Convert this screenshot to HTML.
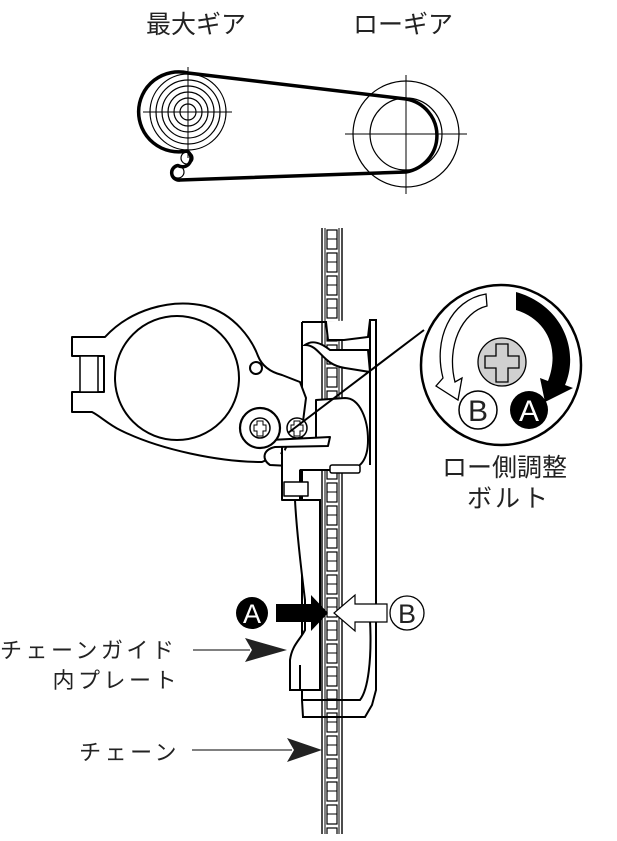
<!DOCTYPE html>
<html><head><meta charset="utf-8"><style>
html,body{margin:0;padding:0;background:#fff;}
svg{display:block;}
text{font-family:"Liberation Sans","Noto Sans CJK JP",sans-serif;fill:#222;}
</style></head><body>
<svg width="617" height="841" viewBox="0 0 617 841" xmlns="http://www.w3.org/2000/svg">
<defs>
<pattern id="chain" x="321" y="228" width="22" height="23" patternUnits="userSpaceOnUse">
<rect x="0" y="0" width="22" height="23" fill="#fff"/>
<line x1="1" y1="0" x2="1" y2="23" stroke="#000" stroke-width="1.4"/>
<line x1="21" y1="0" x2="21" y2="23" stroke="#000" stroke-width="1.4"/>
<line x1="4" y1="0" x2="4" y2="23" stroke="#000" stroke-width="1"/>
<line x1="18" y1="0" x2="18" y2="23" stroke="#000" stroke-width="1"/>
<rect x="6" y="2" width="10" height="19" fill="none" stroke="#000" stroke-width="1.2"/>
<line x1="6" y1="11" x2="16" y2="11" stroke="#000" stroke-width="1"/>
</pattern>
</defs>

<text x="146" y="33" font-size="25">最大ギア</text>
<text x="353" y="33" font-size="25">ローギア</text>

<g fill="none" stroke="#000">
<circle cx="188" cy="112" r="38" stroke-width="1.2"/>
<circle cx="188" cy="112" r="32" stroke-width="1.2"/>
<circle cx="188" cy="112" r="26" stroke-width="1.2"/>
<circle cx="188" cy="112" r="20" stroke-width="1.2"/>
<circle cx="188" cy="112" r="14" stroke-width="1.2"/>
<circle cx="188" cy="112" r="8" stroke-width="1.2"/>
<line x1="143" y1="112" x2="232" y2="112" stroke-width="1"/>
<line x1="188" y1="67" x2="188" y2="158" stroke-width="1"/>
<circle cx="406" cy="134" r="53" stroke-width="1.2"/>
<circle cx="406" cy="134" r="36" stroke-width="1.2"/>
<line x1="345" y1="134" x2="467" y2="134" stroke-width="1"/>
<line x1="406" y1="75" x2="406" y2="194" stroke-width="1"/>
<circle cx="187" cy="158" r="6" stroke-width="1.2"/>
<circle cx="178" cy="172" r="6" stroke-width="1.2"/>
<path d="M188,73 L406,99 A37,37 0 0 1 406,172 L180,180 A6.5,6.5 0 0 1 178,165.5 A7,7 0 0 0 187,151 A40,40 0 1 1 188,73 Z" stroke-width="3.5" stroke-linejoin="round"/>
</g>

<rect x="321" y="228" width="22" height="606" fill="url(#chain)"/>

<g fill="none" stroke="#000" stroke-width="2">
<path d="M302,322 L302,700 L303,717 L365,717 L372,705 L376,690 L376,320 L370,320 L370,465"/>
<path d="M302,322 L326,322 L328,340 L344,340 L368,337 L370,320" fill="#fff"/>
<path d="M305,345 C320,345 322,365 345,368 L370,372 L368,350 L330,350 C320,342 312,340 305,345Z" fill="#fff"/>
<path d="M290,690 L290,660 C292,645 300,640 305,630 L305,600 C300,560 296,520 295,500 L320,500 L320,690 Z" fill="#fff"/>
<path d="M300,665 L300,690 M303,700 L360,700 C368,690 372,660 370,620"/>
</g>

<g fill="#fff" stroke="#000" stroke-width="2" stroke-linejoin="round">
<path d="M105,337 C130,310 170,298 205,306 C235,314 252,340 258,356 C262,366 270,372 282,375 L300,382 L306,398 L300,445 L262,462 C220,462 160,450 120,430 C108,424 100,416 92,412 L72,412 L72,392 L104,392 L104,356 L72,356 L72,337 Z"/>
<circle cx="177" cy="378" r="62"/>
<circle cx="256" cy="368" r="6"/>
<rect x="80" y="356" width="18" height="36" stroke-width="1.5"/>
</g>

<g fill="#fff" stroke="#000" stroke-width="2" stroke-linejoin="round">
<path d="M316,400 L345,398 C360,398 368,420 368,440 C368,460 360,470 345,470 L285,470 L282,455 L290,440 L316,440 Z"/>
<path d="M270,440 L330,437 L328,446 L275,447 C262,450 262,460 270,465 L290,466"/>
<path d="M282,447 L282,500 L300,500 L300,470"/>
<rect x="284" y="482" width="24" height="14" stroke-width="1.5"/>
<rect x="330" y="465" width="30" height="8" rx="2" stroke-width="1.5"/>
</g>
<g fill="#fff" stroke="#000">
<circle cx="260" cy="428" r="20" stroke-width="2.2"/>
<circle cx="260" cy="428" r="10" stroke-width="1.5"/>
<circle cx="297" cy="428" r="10" stroke-width="1.5"/>
<path d="M257,421 h6 v4 h3 v6 h-3 v5 h-6 v-5 h-3 v-6 h3z" stroke-width="1" fill="none"/>
<path d="M294,421 h6 v4 h3 v6 h-3 v5 h-6 v-5 h-3 v-6 h3z" stroke-width="1" fill="none"/>
</g>
<line x1="288" y1="433" x2="424" y2="330" stroke="#000" stroke-width="2"/>

<circle cx="501" cy="365" r="80" fill="#fff" stroke="#000" stroke-width="2.5"/>
<path d="M486,294 C450,300 433,340 443,378 L436,386 L458,400 L462,378 L455,382 C446,346 462,312 487,306 Z" fill="#fff" stroke="#000" stroke-width="1.3"/>
<path d="M516,292 C562,305 580,350 565,385 L573,388 L545,402 L540,378 L548,381 C560,350 548,320 516,310 Z" fill="#000"/>
<circle cx="502" cy="362" r="24" fill="#d0d0d0" stroke="#000" stroke-width="1.3"/>
<path d="M496,344 h12 v12 h11 v12 h-11 v14 h-12 v-14 h-11 v-12 h11 z" fill="none" stroke="#000" stroke-width="1.3"/>
<circle cx="478" cy="410" r="19" fill="#fff" stroke="#000" stroke-width="1.5"/>
<text x="478" y="421" font-size="30" text-anchor="middle">B</text>
<circle cx="529" cy="410" r="19" fill="#000"/>
<text x="529" y="421" font-size="30" text-anchor="middle" style="fill:#fff">A</text>

<text x="442" y="476" font-size="25">ロー側調整</text>
<text x="467" y="507" font-size="25" letter-spacing="3">ボルト</text>

<circle cx="252" cy="613" r="16" fill="#000"/>
<text x="252" y="623" font-size="27" text-anchor="middle" style="fill:#fff">A</text>
<path d="M276,604 L311,604 L311,595 L328,613 L311,631 L311,622 L276,622 Z" fill="#000"/>
<path d="M387,604 L355,604 L355,595 L334,613 L355,631 L355,622 L387,622 Z" fill="#fff" stroke="#000" stroke-width="1.2"/>
<circle cx="407" cy="613" r="17" fill="#fff" stroke="#000" stroke-width="1.3"/>
<text x="407" y="623" font-size="27" text-anchor="middle">B</text>

<text x="0" y="658" font-size="22" letter-spacing="3.5">チェーンガイド</text>
<text x="180" y="688" font-size="22" letter-spacing="3.5" text-anchor="end">内プレート</text>
<line x1="193" y1="650" x2="250" y2="650" stroke="#000" stroke-width="1"/>
<path d="M245,638 L287,650 L245,662 L252,650 Z" fill="#222"/>
<text x="180" y="760" font-size="22" letter-spacing="3.5" text-anchor="end">チェーン</text>
<line x1="192" y1="750" x2="292" y2="750" stroke="#000" stroke-width="1"/>
<path d="M287,738 L322,750 L287,762 L294,750 Z" fill="#222"/>
</svg>
</body></html>
